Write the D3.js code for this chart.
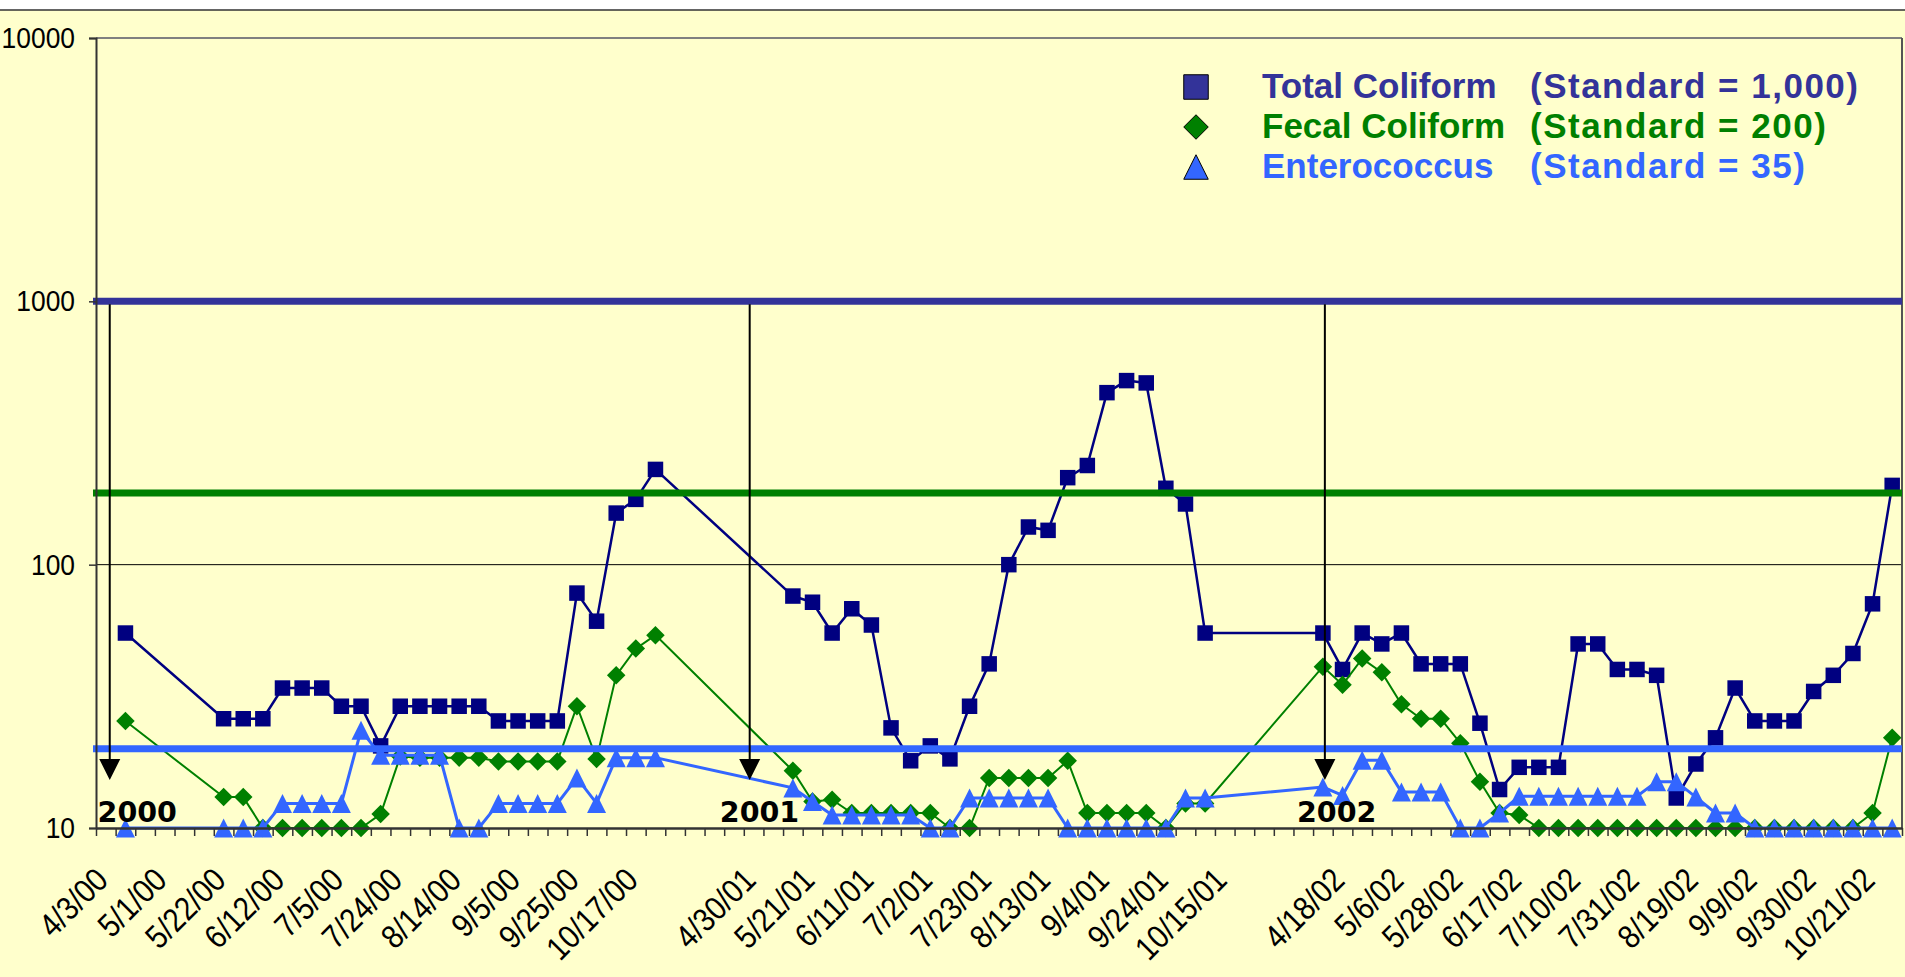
<!DOCTYPE html>
<html>
<head>
<meta charset="utf-8">
<script src="https://cdn.jsdelivr.net/npm/d3@7/dist/d3.min.js"></script>
<style>
  html, body { margin: 0; padding: 0; background: #fff; }
  svg { display: block; }
</style>
</head>
<body>
<div id="chart"></div>
<script>
// one label for every third category, '' = blank slot between seasons
const tickLabels = [
  '4/3/00', '5/1/00', '5/22/00', '6/12/00', '7/5/00', '7/24/00', '8/14/00', '9/5/00', '9/25/00', '10/17/00',
  '',
  '4/30/01', '5/21/01', '6/11/01', '7/2/01', '7/23/01', '8/13/01', '9/4/01', '9/24/01', '10/15/01',
  '',
  '4/18/02', '5/6/02', '5/28/02', '6/17/02', '7/10/02', '7/31/02', '8/19/02', '9/9/02', '9/30/02', '10/21/02'
];
const categoryCount = 92;

// counts per category (null = no sample)
const totalColiform = [
  null, 55, null, null, null, null, 26, 26, 26, 34,
  34, 34, 29, 29, 20.5, 29, 29, 29, 29, 29,
  25.5, 25.5, 25.5, 25.5, 78, 61, 157, 177, 230, null,
  null, null, null, null, null, 76, 72, 55, 68, 59,
  24, 18, 20.5, 18.3, 29, 42, 100, 139, 135, 214,
  238, 450, 500, 490, 195, 170, 55, null, null, null,
  null, null, 55, 40, 55, 50, 55, 42, 42, 42,
  25, 14, 17, 17, 17, 50, 50, 40, 40, 38,
  13, 17.5, 22, 34, 25.5, 25.5, 25.5, 33, 38, 46,
  71, 200
];
const fecalColiform = [
  null, 25.5, null, null, null, null, 13.1, 13.1, 10, 10,
  10, 10, 10, 10, 11.3, 18.7, 18.5, 18.5, 18.5, 18.5,
  17.9, 17.9, 17.9, 17.9, 29, 18.3, 38, 48, 54, null,
  null, null, null, null, null, 16.5, 12.6, 12.8, 11.4, 11.4,
  11.4, 11.4, 11.4, 10, 10, 15.5, 15.5, 15.5, 15.5, 18,
  11.4, 11.4, 11.4, 11.4, 10, 12.4, 12.4, null, null, null,
  null, null, 41, 35, 44, 39, 29.5, 26, 26, 21,
  15, 11.4, 11.2, 10, 10, 10, 10, 10, 10, 10,
  10, 10, 10, 10, 10, 10, 10, 10, 10, 10,
  11.4, 22
];
const enterococcus = [
  null, 10, null, null, null, null, 10, 10, 10, 12.4,
  12.4, 12.4, 12.4, 23.5, 18.9, 18.9, 18.9, 18.9, 10, 10,
  12.4, 12.4, 12.4, 12.4, 15.5, 12.4, 18.5, 18.5, 18.5, null,
  null, null, null, null, null, 14.2, 12.6, 11.2, 11.2, 11.2,
  11.2, 11.2, 10, 10, 13, 13, 13, 13, 13, 10,
  10, 10, 10, 10, 10, 13, 13, null, null, null,
  null, null, 14.3, 13.3, 18.1, 18.1, 13.7, 13.7, 13.7, 10,
  10, 11.4, 13.2, 13.2, 13.2, 13.2, 13.2, 13.2, 13.2, 15,
  15, 13.1, 11.4, 11.4, 10, 10, 10, 10, 10, 10,
  10, 10
];

// standard lines as drawn (value on the y axis)
const standardValues = [1000, 187, 20];
const standardColors = ['#333399', '#008000', '#3366ff'];

// season start arrows and year labels, in category units
const yearNames = ['2000', '2001', '2002'];
const yearArrowAt = [0.7, 33.3, 62.6];
const yearLabelAt = [2.1, 33.8, 63.2];

const yTicks = [10, 100, 1000, 10000];

const W = 1905, H = 977;
const plot = {left: 96, right: 1902, top: 38, bottom: 828};
// axis text in the picture is a little narrower than Arial
const squeeze = 0.88;

let svg = d3.select('#chart').append('svg')
  .attr('width', W)
  .attr('height', H);

let x = d3.scaleLinear()
  .domain([0, categoryCount])
  .range([plot.left, plot.right]);
let y = d3.scaleLog()
  .domain([10, 10000])
  .range([plot.bottom, plot.top]);

// chart area
svg.append('rect')
  .attr('x', -2).attr('y', 10)
  .attr('width', W + 4).attr('height', H)
  .attr('fill', '#ffffcc')
  .attr('stroke', '#333')
  .attr('stroke-width', 1.5);

// gridlines
svg.append('g')
  .selectAll('line')
  .data([100, 1000])
  .enter().append('line')
  .attr('x1', plot.left).attr('x2', plot.right)
  .attr('y1', function(d) { return y(d) })
  .attr('y2', function(d) { return y(d) })
  .attr('stroke', '#000')
  .attr('stroke-width', 1);

svg.append('line')
  .attr('x1', plot.left).attr('x2', plot.right)
  .attr('y1', plot.top).attr('y2', plot.top)
  .attr('stroke', '#808080')
  .attr('stroke-width', 2);
svg.append('line')
  .attr('x1', plot.right).attr('x2', plot.right)
  .attr('y1', plot.top).attr('y2', plot.bottom)
  .attr('stroke', '#555')
  .attr('stroke-width', 2);

// marker shapes
function square(s) {
  let h = s / 2;
  return 'M' + (-h) + ',' + (-h) + 'H' + h + 'V' + h + 'H' + (-h) + 'Z';
}
function diamond(s) {
  let h = s / 2;
  return 'M0,' + (-h) + 'L' + h + ',0L0,' + h + 'L' + (-h) + ',0Z';
}
function triangle(s) {
  let h = s / 2;
  return 'M0,' + (-h) + 'L' + h + ',' + h + 'L' + (-h) + ',' + h + 'Z';
}

let series = [
  {name: 'Total Coliform', std: '(Standard = 1,000)', values: totalColiform,
   color: '#000080', text: '#333399', shape: square, size: 15.5, width: 2.5},
  {name: 'Fecal Coliform', std: '(Standard = 200)', values: fecalColiform,
   color: '#008000', text: '#008000', shape: diamond, size: 18.5, width: 2},
  {name: 'Enterococcus', std: '(Standard = 35)', values: enterococcus,
   color: '#3366ff', text: '#3366ff', shape: triangle, size: 19, width: 3}
];

let line = d3.line()
  .x(function(d) { return x(d.i + 0.5) })
  .y(function(d) { return y(d.v) });

series.forEach(function(s) {
  // skip empty categories but keep the line connected across them
  let pts = s.values
    .map(function(v, i) { return {i: i, v: v} })
    .filter(function(d) { return d.v != null });

  let g = svg.append('g');
  g.append('path')
    .attr('d', line(pts))
    .style('fill', 'none')
    .style('stroke', s.color)
    .style('stroke-width', s.width);

  g.selectAll('path.pt')
    .data(pts)
    .enter().append('path')
    .attr('class', 'pt')
    .attr('d', s.shape(s.size))
    .attr('transform', function(d) {
      return 'translate(' + x(d.i + 0.5) + ',' + y(d.v) + ')';
    })
    .style('fill', s.color);
});

// standards drawn over the data
svg.append('g')
  .selectAll('line')
  .data(standardValues)
  .enter().append('line')
  .attr('x1', plot.left - 3).attr('x2', plot.right)
  .attr('y1', function(d) { return y(d) })
  .attr('y2', function(d) { return y(d) })
  .attr('stroke', function(d, i) { return standardColors[i] })
  .attr('stroke-width', 7);

// axes
let yAxis = svg.append('g')
  .attr('transform', 'translate(' + plot.left + ',0)')
  .call(d3.axisLeft(y)
    .tickValues(yTicks)
    .tickFormat(d3.format('d'))
    .tickSize(7)
    .tickPadding(14));
yAxis.select('.domain').attr('stroke', '#333').attr('stroke-width', 2);
yAxis.selectAll('.tick line').attr('stroke', '#333').attr('stroke-width', 1.5);
yAxis.selectAll('.tick text')
  .attr('fill', '#000')
  .attr('x', -21 / squeeze)
  .attr('transform', 'scale(' + squeeze + ',1)')
  .style('font-family', '"Liberation Sans", Arial, sans-serif')
  .style('font-size', '30px');

let xAxis = svg.append('g')
  .attr('transform', 'translate(0,' + plot.bottom + ')')
  .call(d3.axisBottom(x)
    .tickValues(d3.range(0, categoryCount + 1))
    .tickFormat('')
    .tickSize(8)
    .tickSizeOuter(0));
xAxis.select('.domain').attr('stroke', '#333').attr('stroke-width', 2.5);
xAxis.selectAll('.tick line').attr('stroke', '#333').attr('stroke-width', 1.5);

svg.append('g')
  .selectAll('text')
  .data(tickLabels)
  .enter().append('text')
  .attr('transform', function(d, i) {
    return 'translate(' + (x(i * 3 + 0.5) + 4) + ',' + (plot.bottom + 54) + ') rotate(-45) scale(' + squeeze + ',1)';
  })
  .attr('text-anchor', 'end')
  .style('font-family', '"Liberation Sans", Arial, sans-serif')
  .style('font-size', '33px')
  .text(function(d) { return d });

// season arrows
let arrows = svg.append('g');
yearArrowAt.forEach(function(a, i) {
  let ax = x(a);
  let tip = plot.bottom - 48;
  arrows.append('line')
    .attr('x1', ax).attr('x2', ax)
    .attr('y1', y(1000) + 3).attr('y2', tip - 18)
    .attr('stroke', '#000')
    .attr('stroke-width', 2);
  arrows.append('path')
    .attr('d', 'M' + (ax - 10.5) + ',' + (tip - 21) + 'L' + (ax + 10.5) + ',' + (tip - 21) + 'L' + ax + ',' + tip + 'Z')
    .attr('fill', '#000');
  arrows.append('text')
    .attr('x', x(yearLabelAt[i]))
    .attr('y', plot.bottom - 6)
    .attr('text-anchor', 'middle')
    .style('font-family', '"DejaVu Sans", Verdana, sans-serif')
    .style('font-weight', 'bold')
    .style('font-size', '28.5px')
    .text(yearNames[i]);
});

// legend
let legend = svg.append('g')
  .attr('transform', 'translate(1196,87)');
series.forEach(function(s, i) {
  let row = legend.append('g')
    .attr('transform', 'translate(0,' + (i * 40) + ')');
  row.append('path')
    .attr('d', s.shape(24.5))
    .style('fill', s.text)
    .style('stroke', '#000')
    .style('stroke-width', 1);
  let label = row.append('text')
    .attr('y', 10.5)
    .style('font-family', '"Liberation Sans", Arial, sans-serif')
    .style('font-weight', 'bold')
    .style('font-size', '35px')
    .style('fill', s.text);
  label.append('tspan')
    .attr('x', 66)
    .text(s.name);
  label.append('tspan')
    .attr('x', 334)
    .style('letter-spacing', '1.5px')
    .text(s.std);
});
</script>
</body>
</html>
